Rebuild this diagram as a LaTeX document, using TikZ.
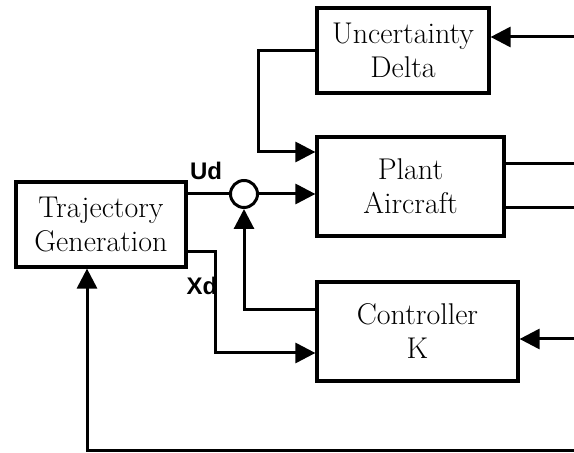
\documentclass[tikz,border=0pt]{standalone}
\usepackage{fontspec}
\newfontfamily\labelsans{Liberation Sans}
\usetikzlibrary{arrows.meta,positioning,calc}

\begin{document}
\begin{tikzpicture}[
        x=0.5pt, y=-0.5pt,
        box/.style={rectangle, draw, line width=1.6pt, inner sep=0pt, align=center, font=\fontsize{15}{17}\selectfont},
        sum/.style={circle, draw, line width=1.5pt, minimum size=13.5pt, inner sep=0pt},
        lbl/.style={inner sep=0pt, font=\labelsans\bfseries\fontsize{12}{14}\selectfont},
        wire/.style={line width=1.5pt},
        arrow/.style={-{Triangle[length=10pt,width=10pt]}, line width=1.5pt}
    ]
        \useasboundingbox (0,0) rectangle (574,453);

        \node[box, minimum width=86pt, minimum height=42.5pt] (uncert) at (403,50.5) {Uncertainty\\Delta};
        \node[box, minimum width=93.5pt, minimum height=49.5pt] (plant) at (410.5,186.5) {Plant\\Aircraft};
        \node[box, minimum width=100.5pt, minimum height=49.5pt] (ctrl) at (417.5,331.5) {Controller\\K};
        \node[box, minimum width=85pt, minimum height=42.5pt] (traj) at (101,224.5) {Trajectory\\Generation};
        \node[sum] (sum) at (244,194) {};

        \coordinate (deltain) at (574,37);
        \coordinate (dloop) at (258,152);
        \coordinate (yout1) at (574,164);
        \coordinate (yout2) at (574,208);
        \coordinate (xdin) at (215,353);
        \coordinate (kout) at (244,310);
        \coordinate (kin) at (574,339);
        \coordinate (fbin) at (574,451);
        \coordinate (fbup) at (87,451);

        % Delta loop
        \draw[arrow] (deltain) -- (uncert.east |- deltain);
        \draw[arrow] (uncert.west) -| (dloop) -- (plant.west |- dloop);

        % plant in and out
        \draw[arrow] (sum.east) -- (plant.west |- sum.east);
        \draw[wire] (plant.east |- yout1) -- (yout1);
        \draw[wire] (plant.east |- yout2) -- (yout2);

        % Ud and Xd
        \draw[wire] (traj.east |- sum.west) -- (sum.west);
        \node[lbl] (udlbl) at (206,171) {Ud};
        \draw[arrow] ([yshift=-13.75pt]traj.east) -| (xdin) -- (ctrl.west |- xdin);
        \node[lbl] (xdlbl) at (202,286) {Xd};

        % controller
        \draw[arrow] (ctrl.west |- kout) -| (sum.south);
        \draw[arrow] (kin) -- (ctrl.east |- kin);

        % feedback to trajectory
        \draw[arrow] (fbin) -- (fbup) -- (fbup |- traj.south);

    \end{tikzpicture}
\end{document}
